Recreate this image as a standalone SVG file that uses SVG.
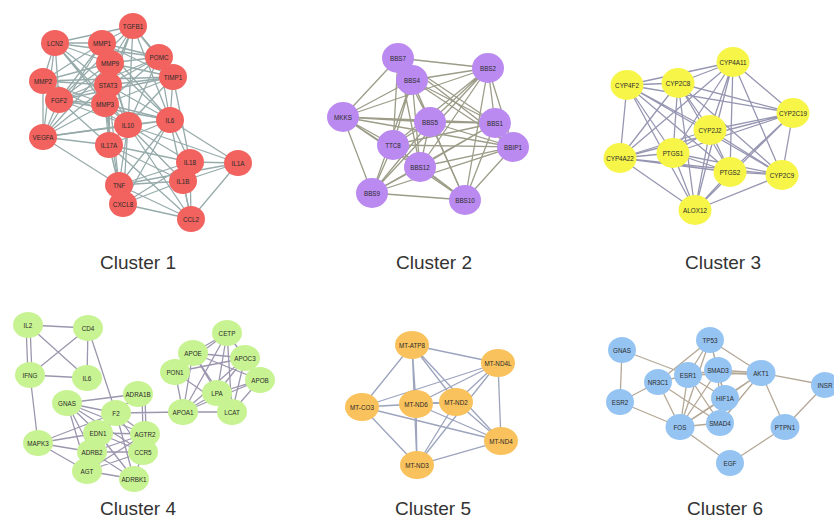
<svg xmlns="http://www.w3.org/2000/svg" width="834" height="521" viewBox="0 0 834 521">
<style>
.e{fill:none;stroke-width:1.3;stroke-linecap:round}
.e1{stroke:#97abab}.e2{stroke:#9c9c88}.e3{stroke:#9696b2}.e4{stroke:#9c96ae}.e5{stroke:#9ca4be}.e6{stroke:#b4a896}
.n1{fill:#f2625e}.n2{fill:#ba8af0}.n3{fill:#f6f548}.n4{fill:#c8f392}.n5{fill:#f9c25c}.n6{fill:#95c4f2}
.lb{font-family:"Liberation Sans",Arial,sans-serif;font-size:6.3px;fill:#2b2b2b;text-anchor:middle;dominant-baseline:central}
.ti{font-family:"Liberation Sans",Arial,sans-serif;font-size:19px;fill:#333;text-anchor:middle}
</style>
<rect width="834" height="521" fill="#fff"/>
<g id="connectors">
<g id="edges-c1" class="e e1">
<path d="M133 26L55 43M133 26L102 43M133 26L159 57M133 26L110 63M133 26L173 77M133 26L108 85M133 26L105 104M133 26L170 120M133 26L128 125M133 26L59 100"/>
<path d="M55 43L102 43M55 43L110 63M55 43L43 81M55 43L108 85M55 43L59 100M55 43L105 104M55 43L43 137M55 43L159 57M55 43L128 125"/>
<path d="M102 43L159 57M102 43L110 63M102 43L43 81M102 43L173 77M102 43L108 85M102 43L59 100M102 43L170 120M102 43L128 125M102 43L43 137"/>
<path d="M159 57L110 63M159 57L173 77M159 57L108 85M159 57L105 104M159 57L170 120M159 57L128 125M159 57L59 100"/>
<path d="M110 63L43 81M110 63L173 77M110 63L108 85M110 63L59 100M110 63L170 120M110 63L128 125M110 63L43 137M110 63L109 145"/>
<path d="M43 81L108 85M43 81L59 100M43 81L105 104M43 81L43 137M43 81L128 125M43 81L173 77"/>
<path d="M173 77L108 85M173 77L105 104M173 77L170 120M173 77L128 125M173 77L59 100M173 77L109 145M173 77L190 162"/>
<path d="M108 85L59 100M108 85L105 104M108 85L170 120M108 85L43 137M108 85L109 145M108 85L128 125M108 85L119 185"/>
<path d="M59 100L105 104M59 100L43 137M59 100L128 125M59 100L109 145M59 100L170 120"/>
<path d="M105 104L170 120M105 104L128 125M105 104L43 137M105 104L109 145M105 104L119 185"/>
<path d="M170 120L128 125M170 120L109 145M170 120L190 162M170 120L238 163M170 120L183 181M170 120L119 185M170 120L123 204M170 120L191 219M170 120L43 137"/>
<path d="M128 125L43 137M128 125L109 145M128 125L190 162M128 125L238 163M128 125L183 181M128 125L119 185M128 125L123 204M128 125L191 219"/>
<path d="M43 137L109 145M43 137L119 185M109 145L190 162M109 145L183 181M109 145L119 185M109 145L123 204M109 145L191 219"/>
<path d="M190 162L238 163M190 162L183 181M190 162L119 185M190 162L123 204M190 162L191 219M238 163L183 181M238 163L119 185M238 163L191 219"/>
<path d="M183 181L119 185M183 181L123 204M183 181L191 219M119 185L123 204M119 185L191 219M123 204L191 219"/>
</g>
<g id="edges-c2" class="e e2">
<path d="M398 58L488 68M398 58L412 80M398 58L343 117M398 58L430 122M398 58L393 145M398 58L420 167M398 58L495 123M398 58L513 147"/>
<path d="M488 68L412 80M488 68L343 117M488 68L430 122M488 68L495 123M488 68L393 145M488 68L513 147M488 68L420 167M488 68L465 200M488 68L372 193"/>
<path d="M412 80L343 117M412 80L430 122M412 80L495 123M412 80L393 145M412 80L513 147M412 80L420 167M412 80L372 193M412 80L465 200"/>
<path d="M343 117L430 122M343 117L495 123M343 117L393 145M343 117L420 167M343 117L372 193M343 117L465 200M343 117L513 147"/>
<path d="M430 122L495 123M430 122L393 145M430 122L513 147M430 122L420 167M430 122L372 193M430 122L465 200"/>
<path d="M495 123L393 145M495 123L513 147M495 123L420 167M495 123L372 193M495 123L465 200"/>
<path d="M393 145L513 147M393 145L420 167M393 145L372 193M393 145L465 200M513 147L420 167M513 147L372 193M513 147L465 200"/>
<path d="M420 167L372 193M420 167L465 200M372 193L465 200"/>
</g>
<g id="edges-c3" class="e e3">
<path d="M733 62L627 85M733 62L678 83M733 62L793 113M733 62L710 130M733 62L620 158M733 62L673 153M733 62L730 172M733 62L782 175M733 62L695 210"/>
<path d="M627 85L678 83M627 85L793 113M627 85L710 130M627 85L620 158M627 85L673 153M627 85L730 172M627 85L782 175M627 85L695 210"/>
<path d="M678 83L793 113M678 83L710 130M678 83L620 158M678 83L673 153M678 83L730 172M678 83L782 175M678 83L695 210"/>
<path d="M793 113L710 130M793 113L620 158M793 113L673 153M793 113L730 172M793 113L782 175M793 113L695 210"/>
<path d="M710 130L620 158M710 130L673 153M710 130L730 172M710 130L782 175M710 130L695 210"/>
<path d="M620 158L673 153M620 158L730 172M620 158L782 175M620 158L695 210M673 153L730 172M673 153L782 175M673 153L695 210"/>
<path d="M730 172L782 175M730 172L695 210M782 175L695 210"/>
</g>
<g id="edges-c4" class="e e4">
<path d="M28 325L88 328M26 325L28 375M30 325L32 375M28 325L87 378M88 328L30 375M88 328L87 378M30 375L87 378M88 328L116 413M30 375L38 443"/>
<path d="M67 403L138 394M67 403L116 413M67 403L98 433M67 403L145 434M67 403L92 452M67 403L143 452M67 403L87 471"/>
<path d="M138 394L116 413M142 394L143 434M145 394L146 434M116 413L183 412"/>
<path d="M116 413L98 433M116 413L145 434M116 413L92 452M116 413L143 452M116 413L87 471M116 413L134 479"/>
<path d="M38 443L98 433M38 443L116 413M38 443L92 452M38 443L87 471"/>
<path d="M98 433L145 434M98 433L92 452M98 433L143 452M98 433L87 471M98 433L134 479M145 434L92 452M145 434L87 471M145 434L143 452"/>
<path d="M92 452L143 452M92 452L134 479M92 452L87 471M143 452L87 471M87 471L134 479M143 452L134 479"/>
<path d="M227 333L193 353M227 333L245 358M227 333L175 372M227 333L260 380M227 333L217 393M227 333L183 412M227 333L232 412"/>
<path d="M193 353L245 358M193 353L260 380M193 353L217 393M193 353L183 412M193 353L232 412M245 358L183 412M245 358L232 412M245 358L217 393M245 358L175 372"/>
<path d="M175 372L183 412M175 372L232 412M260 380L232 412M260 380L183 412M260 380L217 393M217 393L183 412M217 393L232 412M183 412L232 412"/>
</g>
<g id="edges-c5" class="e e5">
<path d="M412 345L498 363M412 345L362 407M412 345L416 404M412 345L456 402M412 345L417 465M412 345L501 441"/>
<path d="M498 363L362 407M498 363L416 404M498 363L456 402M498 363L501 441M498 363L417 465"/>
<path d="M362 407L416 404M362 407L456 402M362 407L501 441M362 407L417 465"/>
<path d="M416 404L456 402M416 404L501 441M416 404L417 465M456 402L501 441M456 402L417 465M501 441L417 465"/>
</g>
<g id="edges-c6" class="e e6">
<path d="M622 350L620 402M622 350L688 375M620 402L658 382M620 402L680 427"/>
<path d="M658 382L710 340M658 382L680 427M658 382L720 423M658 382L688 375"/>
<path d="M710 340L688 375M710 340L718 370M710 340L761 373M710 340L680 427M710 340L725 398"/>
<path d="M688 375L718 370M688 375L680 427M688 375L720 423M688 375L725 398M688 375L761 373"/>
<path d="M718 370L761 373M718 372L761 375M718 370L680 427M718 370L720 423M718 370L725 398"/>
<path d="M761 373L725 398M761 373L680 427M761 373L825 385M761 373L785 427M761 373L720 423"/>
<path d="M725 398L680 427M680 427L720 423M680 427L730 463M825 385L785 427M785 427L730 463"/>
</g>
</g>
<g id="cluster1">
<g id="c1-TGFB1"><ellipse class="n1" cx="133" cy="26" rx="14" ry="13"/><text class="lb" x="133" y="26">TGFB1</text></g>
<g id="c1-LCN2"><ellipse class="n1" cx="55" cy="43" rx="14" ry="13"/><text class="lb" x="55" y="43">LCN2</text></g>
<g id="c1-MMP1"><ellipse class="n1" cx="102" cy="43" rx="14" ry="13"/><text class="lb" x="102" y="43">MMP1</text></g>
<g id="c1-POMC"><ellipse class="n1" cx="159" cy="57" rx="14" ry="13"/><text class="lb" x="159" y="57">POMC</text></g>
<g id="c1-MMP9"><ellipse class="n1" cx="110" cy="63" rx="14" ry="13"/><text class="lb" x="110" y="63">MMP9</text></g>
<g id="c1-MMP2"><ellipse class="n1" cx="43" cy="81" rx="14" ry="13"/><text class="lb" x="43" y="81">MMP2</text></g>
<g id="c1-TIMP1"><ellipse class="n1" cx="173" cy="77" rx="14" ry="13"/><text class="lb" x="173" y="77">TIMP1</text></g>
<g id="c1-STAT3"><ellipse class="n1" cx="108" cy="85" rx="14" ry="13"/><text class="lb" x="108" y="85">STAT3</text></g>
<g id="c1-FGF2"><ellipse class="n1" cx="59" cy="100" rx="14" ry="13"/><text class="lb" x="59" y="100">FGF2</text></g>
<g id="c1-MMP3"><ellipse class="n1" cx="105" cy="104" rx="14" ry="13"/><text class="lb" x="105" y="104">MMP3</text></g>
<g id="c1-IL6"><ellipse class="n1" cx="170" cy="120" rx="14" ry="13"/><text class="lb" x="170" y="120">IL6</text></g>
<g id="c1-IL10"><ellipse class="n1" cx="128" cy="125" rx="14" ry="13"/><text class="lb" x="128" y="125">IL10</text></g>
<g id="c1-VEGFA"><ellipse class="n1" cx="43" cy="137" rx="14" ry="13"/><text class="lb" x="43" y="137">VEGFA</text></g>
<g id="c1-IL17A"><ellipse class="n1" cx="109" cy="145" rx="14" ry="13"/><text class="lb" x="109" y="145">IL17A</text></g>
<g id="c1-IL18"><ellipse class="n1" cx="190" cy="162" rx="14" ry="13"/><text class="lb" x="190" y="162">IL18</text></g>
<g id="c1-IL1A"><ellipse class="n1" cx="238" cy="163" rx="14" ry="13"/><text class="lb" x="238" y="163">IL1A</text></g>
<g id="c1-IL1B"><ellipse class="n1" cx="183" cy="181" rx="14" ry="13"/><text class="lb" x="183" y="181">IL1B</text></g>
<g id="c1-TNF"><ellipse class="n1" cx="119" cy="185" rx="14" ry="13"/><text class="lb" x="119" y="185">TNF</text></g>
<g id="c1-CXCL8"><ellipse class="n1" cx="123" cy="204" rx="14" ry="13"/><text class="lb" x="123" y="204">CXCL8</text></g>
<g id="c1-CCL2"><ellipse class="n1" cx="191" cy="219" rx="14" ry="13"/><text class="lb" x="191" y="219">CCL2</text></g>
</g>
<g id="cluster2">
<g id="c2-BBS7"><ellipse class="n2" cx="398" cy="58" rx="16" ry="15"/><text class="lb" x="398" y="58">BBS7</text></g>
<g id="c2-BBS2"><ellipse class="n2" cx="488" cy="68" rx="16" ry="15"/><text class="lb" x="488" y="68">BBS2</text></g>
<g id="c2-BBS4"><ellipse class="n2" cx="412" cy="80" rx="16" ry="15"/><text class="lb" x="412" y="80">BBS4</text></g>
<g id="c2-MKKS"><ellipse class="n2" cx="343" cy="117" rx="16" ry="15"/><text class="lb" x="343" y="117">MKKS</text></g>
<g id="c2-BBS5"><ellipse class="n2" cx="430" cy="122" rx="16" ry="15"/><text class="lb" x="430" y="122">BBS5</text></g>
<g id="c2-BBS1"><ellipse class="n2" cx="495" cy="123" rx="16" ry="15"/><text class="lb" x="495" y="123">BBS1</text></g>
<g id="c2-TTC8"><ellipse class="n2" cx="393" cy="145" rx="16" ry="15"/><text class="lb" x="393" y="145">TTC8</text></g>
<g id="c2-BBIP1"><ellipse class="n2" cx="513" cy="147" rx="16" ry="15"/><text class="lb" x="513" y="147">BBIP1</text></g>
<g id="c2-BBS12"><ellipse class="n2" cx="420" cy="167" rx="16" ry="15"/><text class="lb" x="420" y="167">BBS12</text></g>
<g id="c2-BBS9"><ellipse class="n2" cx="372" cy="193" rx="16" ry="15"/><text class="lb" x="372" y="193">BBS9</text></g>
<g id="c2-BBS10"><ellipse class="n2" cx="465" cy="200" rx="16" ry="15"/><text class="lb" x="465" y="200">BBS10</text></g>
</g>
<g id="cluster3">
<g id="c3-CYP4A11"><ellipse class="n3" cx="733" cy="62" rx="16.5" ry="15"/><text class="lb" x="733" y="62">CYP4A11</text></g>
<g id="c3-CYP4F2"><ellipse class="n3" cx="627" cy="85" rx="16.5" ry="15"/><text class="lb" x="627" y="85">CYP4F2</text></g>
<g id="c3-CYP2C8"><ellipse class="n3" cx="678" cy="83" rx="16.5" ry="15"/><text class="lb" x="678" y="83">CYP2C8</text></g>
<g id="c3-CYP2C19"><ellipse class="n3" cx="793" cy="113" rx="16.5" ry="15"/><text class="lb" x="793" y="113">CYP2C19</text></g>
<g id="c3-CYP2J2"><ellipse class="n3" cx="710" cy="130" rx="16.5" ry="15"/><text class="lb" x="710" y="130">CYP2J2</text></g>
<g id="c3-CYP4A22"><ellipse class="n3" cx="620" cy="158" rx="16.5" ry="15"/><text class="lb" x="620" y="158">CYP4A22</text></g>
<g id="c3-PTGS1"><ellipse class="n3" cx="673" cy="153" rx="16.5" ry="15"/><text class="lb" x="673" y="153">PTGS1</text></g>
<g id="c3-PTGS2"><ellipse class="n3" cx="730" cy="172" rx="16.5" ry="15"/><text class="lb" x="730" y="172">PTGS2</text></g>
<g id="c3-CYP2C9"><ellipse class="n3" cx="782" cy="175" rx="16.5" ry="15"/><text class="lb" x="782" y="175">CYP2C9</text></g>
<g id="c3-ALOX12"><ellipse class="n3" cx="695" cy="210" rx="16.5" ry="15"/><text class="lb" x="695" y="210">ALOX12</text></g>
</g>
<g id="cluster4">
<g id="c4-IL2"><ellipse class="n4" cx="28" cy="325" rx="15" ry="13"/><text class="lb" x="28" y="325">IL2</text></g>
<g id="c4-CD4"><ellipse class="n4" cx="88" cy="328" rx="15" ry="13"/><text class="lb" x="88" y="328">CD4</text></g>
<g id="c4-IFNG"><ellipse class="n4" cx="30" cy="375" rx="15" ry="13"/><text class="lb" x="30" y="375">IFNG</text></g>
<g id="c4-IL6"><ellipse class="n4" cx="87" cy="378" rx="15" ry="13"/><text class="lb" x="87" y="378">IL6</text></g>
<g id="c4-ADRA1B"><ellipse class="n4" cx="138" cy="394" rx="15" ry="13"/><text class="lb" x="138" y="394">ADRA1B</text></g>
<g id="c4-GNAS"><ellipse class="n4" cx="67" cy="403" rx="15" ry="13"/><text class="lb" x="67" y="403">GNAS</text></g>
<g id="c4-F2"><ellipse class="n4" cx="116" cy="413" rx="15" ry="13"/><text class="lb" x="116" y="413">F2</text></g>
<g id="c4-EDN1"><ellipse class="n4" cx="98" cy="433" rx="15" ry="13"/><text class="lb" x="98" y="433">EDN1</text></g>
<g id="c4-AGTR2"><ellipse class="n4" cx="145" cy="434" rx="15" ry="13"/><text class="lb" x="145" y="434">AGTR2</text></g>
<g id="c4-MAPK3"><ellipse class="n4" cx="38" cy="443" rx="15" ry="13"/><text class="lb" x="38" y="443">MAPK3</text></g>
<g id="c4-ADRB2"><ellipse class="n4" cx="92" cy="452" rx="15" ry="13"/><text class="lb" x="92" y="452">ADRB2</text></g>
<g id="c4-CCR5"><ellipse class="n4" cx="143" cy="452" rx="15" ry="13"/><text class="lb" x="143" y="452">CCR5</text></g>
<g id="c4-AGT"><ellipse class="n4" cx="87" cy="471" rx="15" ry="13"/><text class="lb" x="87" y="471">AGT</text></g>
<g id="c4-ADRBK1"><ellipse class="n4" cx="134" cy="479" rx="15" ry="13"/><text class="lb" x="134" y="479">ADRBK1</text></g>
<g id="c4-CETP"><ellipse class="n4" cx="227" cy="333" rx="15" ry="13"/><text class="lb" x="227" y="333">CETP</text></g>
<g id="c4-APOE"><ellipse class="n4" cx="193" cy="353" rx="15" ry="13"/><text class="lb" x="193" y="353">APOE</text></g>
<g id="c4-APOC3"><ellipse class="n4" cx="245" cy="358" rx="15" ry="13"/><text class="lb" x="245" y="358">APOC3</text></g>
<g id="c4-PON1"><ellipse class="n4" cx="175" cy="372" rx="15" ry="13"/><text class="lb" x="175" y="372">PON1</text></g>
<g id="c4-APOB"><ellipse class="n4" cx="260" cy="380" rx="15" ry="13"/><text class="lb" x="260" y="380">APOB</text></g>
<g id="c4-LPA"><ellipse class="n4" cx="217" cy="393" rx="15" ry="13"/><text class="lb" x="217" y="393">LPA</text></g>
<g id="c4-APOA1"><ellipse class="n4" cx="183" cy="412" rx="15" ry="13"/><text class="lb" x="183" y="412">APOA1</text></g>
<g id="c4-LCAT"><ellipse class="n4" cx="232" cy="412" rx="15" ry="13"/><text class="lb" x="232" y="412">LCAT</text></g>
</g>
<g id="cluster5">
<g id="c5-MT-ATP8"><ellipse class="n5" cx="412" cy="345" rx="17" ry="14"/><text class="lb" x="412" y="345">MT-ATP8</text></g>
<g id="c5-MT-ND4L"><ellipse class="n5" cx="498" cy="363" rx="17" ry="14"/><text class="lb" x="498" y="363">MT-ND4L</text></g>
<g id="c5-MT-CO3"><ellipse class="n5" cx="362" cy="407" rx="17" ry="14"/><text class="lb" x="362" y="407">MT-CO3</text></g>
<g id="c5-MT-ND6"><ellipse class="n5" cx="416" cy="404" rx="17" ry="14"/><text class="lb" x="416" y="404">MT-ND6</text></g>
<g id="c5-MT-ND2"><ellipse class="n5" cx="456" cy="402" rx="17" ry="14"/><text class="lb" x="456" y="402">MT-ND2</text></g>
<g id="c5-MT-ND4"><ellipse class="n5" cx="501" cy="441" rx="17" ry="14"/><text class="lb" x="501" y="441">MT-ND4</text></g>
<g id="c5-MT-ND3"><ellipse class="n5" cx="417" cy="465" rx="17" ry="14"/><text class="lb" x="417" y="465">MT-ND3</text></g>
</g>
<g id="cluster6">
<g id="c6-TP53"><ellipse class="n6" cx="710" cy="340" rx="14" ry="13"/><text class="lb" x="710" y="340">TP53</text></g>
<g id="c6-GNAS"><ellipse class="n6" cx="622" cy="350" rx="14" ry="13"/><text class="lb" x="622" y="350">GNAS</text></g>
<g id="c6-ESR1"><ellipse class="n6" cx="688" cy="375" rx="14" ry="13"/><text class="lb" x="688" y="375">ESR1</text></g>
<g id="c6-SMAD3"><ellipse class="n6" cx="718" cy="370" rx="14" ry="13"/><text class="lb" x="718" y="370">SMAD3</text></g>
<g id="c6-AKT1"><ellipse class="n6" cx="761" cy="373" rx="14.5" ry="13"/><text class="lb" x="761" y="373">AKT1</text></g>
<g id="c6-NR3C1"><ellipse class="n6" cx="658" cy="382" rx="14" ry="13"/><text class="lb" x="658" y="382">NR3C1</text></g>
<g id="c6-INSR"><ellipse class="n6" cx="825" cy="385" rx="14" ry="13"/><text class="lb" x="825" y="385">INSR</text></g>
<g id="c6-HIF1A"><ellipse class="n6" cx="725" cy="398" rx="14" ry="13"/><text class="lb" x="725" y="398">HIF1A</text></g>
<g id="c6-ESR2"><ellipse class="n6" cx="620" cy="402" rx="14" ry="13"/><text class="lb" x="620" y="402">ESR2</text></g>
<g id="c6-FOS"><ellipse class="n6" cx="680" cy="427" rx="14.5" ry="13"/><text class="lb" x="680" y="427">FOS</text></g>
<g id="c6-SMAD4"><ellipse class="n6" cx="720" cy="423" rx="14" ry="13"/><text class="lb" x="720" y="423">SMAD4</text></g>
<g id="c6-PTPN1"><ellipse class="n6" cx="785" cy="427" rx="14.5" ry="13"/><text class="lb" x="785" y="427">PTPN1</text></g>
<g id="c6-EGF"><ellipse class="n6" cx="730" cy="463" rx="14" ry="13"/><text class="lb" x="730" y="463">EGF</text></g>
</g>
<g id="titles">
<text class="ti" x="138" y="269">Cluster 1</text>
<text class="ti" x="434" y="269">Cluster 2</text>
<text class="ti" x="723" y="269">Cluster 3</text>
<text class="ti" x="138" y="515">Cluster 4</text>
<text class="ti" x="433" y="515">Cluster 5</text>
<text class="ti" x="725" y="515">Cluster 6</text>
</g>
</svg>
